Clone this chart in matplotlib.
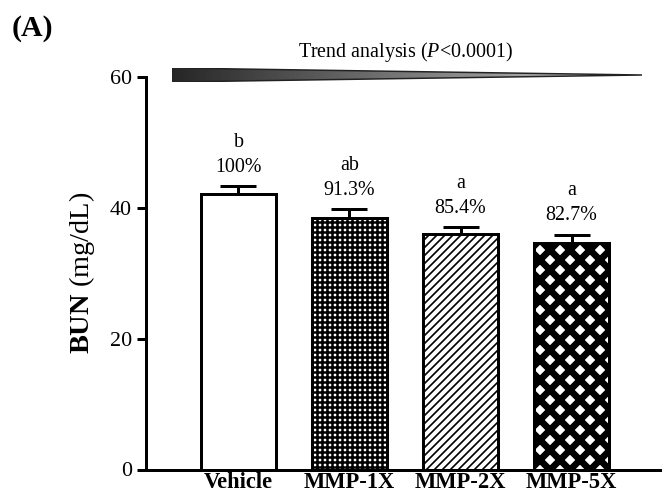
import matplotlib
matplotlib.use("Agg")
import matplotlib.pyplot as plt
import numpy as np
from matplotlib.patches import Polygon

# Data
groups = ["Vehicle", "MMP-1X", "MMP-2X", "MMP-5X"]
bun_mean = [42.1, 38.5, 36.0, 34.7]
bun_sem = [1.2, 1.3, 1.0, 1.2]
sig_letters = ["b", "ab", "a", "a"]
pct_labels = ["100%", "91.3%", "85.4%", "82.7%"]
y_ticks = [0, 20, 40, 60]

hatches = ["", "++++", "/////", "xx"]
hatch_lw = [1.0, 1.5, 1.0, 4.0]

plt.rcParams["font.family"] = ["Liberation Serif", "DejaVu Serif"]
plt.rcParams["mathtext.fontset"] = "custom"
plt.rcParams["mathtext.rm"] = "Liberation Serif"
plt.rcParams["mathtext.it"] = "Liberation Serif:italic"
plt.rcParams["mathtext.bf"] = "Liberation Serif:bold"

W, H, DPI = 664, 499, 120
fig = plt.figure(figsize=(W / DPI, H / DPI), dpi=DPI)

# axes placed in pixel terms of the reference
ax_left, ax_right, ax_top, ax_bottom = 146, 660, 77, 469.5
ax = fig.add_axes([ax_left / W, (H - ax_bottom) / H,
                   (ax_right - ax_left) / W, (ax_bottom - ax_top) / H])

x = np.arange(len(groups))
bars = ax.bar(x, bun_mean, width=0.67, color="white", edgecolor="black",
              linewidth=1.8, zorder=2)
for b, h, lw in zip(bars, hatches, hatch_lw):
    if h:
        b.set_hatch(h)
        if hasattr(b, "set_hatch_linewidth"):
            b.set_hatch_linewidth(lw)

ax.errorbar(x, bun_mean, yerr=[np.zeros(len(x)), bun_sem], fmt="none",
            ecolor="black", elinewidth=1.8, capsize=11, capthick=1.8, zorder=3)

for xi, m, s, let, pct in zip(x, bun_mean, bun_sem, sig_letters, pct_labels):
    ax.annotate(f"{let}\n{pct}", xy=(xi, m + s), xytext=(0, 5.5),
                textcoords="offset points", ha="center", va="bottom",
                fontsize=12, linespacing=1.45)

ax.set_xlim(-0.833, 3.797)
ax.set_ylim(0, 60)
ax.set_yticks(y_ticks)
ax.set_xticks(x)
ax.set_xticklabels(groups, fontweight="bold", fontsize=13.5)
ax.tick_params(axis="x", length=0, pad=1.5)
ax.tick_params(axis="y", length=5.4, width=1.8, pad=3, labelsize=13.2)
for side in ["top", "right"]:
    ax.spines[side].set_visible(False)
for side in ["left", "bottom"]:
    ax.spines[side].set_linewidth(1.8)

ax.set_ylabel(r"$\mathbf{BUN}$ (mg/dL)", fontsize=17, va="center")
ax.yaxis.set_label_coords(-0.1245, 0.5)

# trend wedge above the bars
tri_l, tri_r, tri_t, tri_b = 172, 642, 68, 82
tax = fig.add_axes([tri_l / W, (H - tri_b) / H, (tri_r - tri_l) / W, (tri_b - tri_t) / H])
tax.set_xlim(0, 1)
tax.set_ylim(0, 1)
tax.axis("off")
grad = np.linspace(0.15, 0.8, 256).reshape(1, -1)
im = tax.imshow(grad, cmap="gray", vmin=0, vmax=1, extent=[0, 1, 0, 1], aspect="auto")
wedge = Polygon([(0, 0), (0, 1), (1, 0.5)], closed=True, facecolor="none",
                edgecolor="#222222", linewidth=0.9)
tax.add_patch(wedge)
im.set_clip_path(wedge)

fig.text(406 / W, 1 - 52 / H, r"Trend analysis ($\mathit{P}$<0.0001)",
         ha="center", va="center", fontsize=12)

fig.text(12 / W, 1 - 29 / H, "(A)", ha="left", va="center",
         fontsize=18, fontweight="bold")

fig.savefig("out.png", dpi=DPI)
